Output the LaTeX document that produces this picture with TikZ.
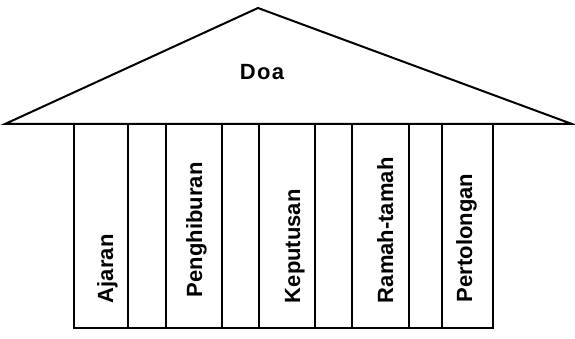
\documentclass[tikz,border=0pt]{standalone}
\usepackage{fontspec}
\setmainfont{Liberation Sans}
\begin{document}
\begin{tikzpicture}[x=1pt,y=-1pt,line width=2pt,line join=miter,
  lbl/.style={inner sep=0pt,font=\fontsize{22}{26}\selectfont\bfseries},
  collbl/.style={lbl,rotate=90,anchor=base west},
  pillar/.style={draw}]
\useasboundingbox (0,0) rectangle (575,339);
\coordinate (apex) at (258,8);
\coordinate (L) at (5,124);
\coordinate (R) at (572,124);
\draw (L) -- (apex) -- (R) -- cycle;
\node[lbl,anchor=base,font=\fontsize{22}{26}\selectfont\bfseries\addfontfeatures{LetterSpace=6}] (doa) at (262,80) {Doa};
\draw[pillar] (74,124) rectangle (128,328);
\draw[pillar] (166,124) rectangle (222,328);
\draw[pillar] (259,124) rectangle (315,328);
\draw[pillar] (352,124) rectangle (409,328);
\draw[pillar] (442,124) rectangle (493,328);
\draw (74,328) -- (493,328);
\node[collbl] (ajaran) at (113,304) {Ajaran};
\node[collbl] (penghiburan) at (202,298) {Penghiburan};
\node[collbl] (keputusan) at (300,304) {Keputusan};
\node[collbl] (ramah) at (393,304) {Ramah-tamah};
\node[collbl] (pertolongan) at (472,303) {Pertolongan};
\end{tikzpicture}
\end{document}
